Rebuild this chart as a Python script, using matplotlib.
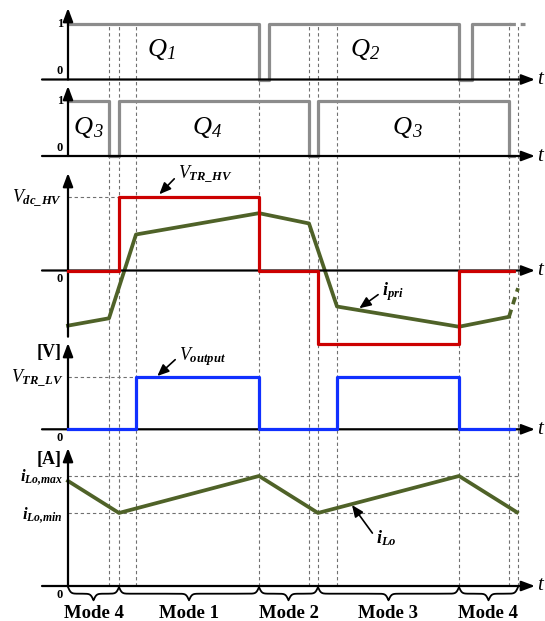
import numpy as np
import matplotlib
matplotlib.use('Agg')
import matplotlib.pyplot as plt

plt.rcParams['font.family'] = ['Liberation Serif', 'DejaVu Serif']
plt.rcParams['mathtext.fontset'] = 'custom'
plt.rcParams['mathtext.rm'] = 'Liberation Serif'
plt.rcParams['mathtext.it'] = 'Liberation Serif:italic'
plt.rcParams['mathtext.bf'] = 'Liberation Serif:bold'
plt.rcParams['mathtext.bfit'] = 'Liberation Serif:italic:bold'

# ---------------- data (time in arbitrary units, signals normalised) -------------
events = [4.1, 5.1, 6.8, 19.1, 24.1, 25.0, 26.9, 39.1, 44.1, 45.0]
q1_t = [0, 19.1, 20.1, 39.1, 40.4, 44.1]
q1_v = [1, 0, 1, 0, 1, 1]
q34_t = [0, 4.1, 5.1, 24.1, 25.0, 44.1]
q34_v = [1, 0, 1, 0, 1, 0]
vtr_t = [0, 5.1, 19.1, 25.0, 39.1, 44.1]
vtr_v = [0, 1, 0, -1, 0, 0]
vout_t = [0, 6.8, 19.1, 26.9, 39.1, 44.1]
vout_v = [0, 1, 0, 1, 0, 0]
ipri_t = [0, 4.1, 6.8, 19.1, 24.1, 26.9, 39.1, 44.1]
ipri_v = [-0.75, -0.65, 0.49, 0.78, 0.64, -0.49, -0.765, -0.63]
ipri_tail_t = [44.1, 45.0]
ipri_tail_v = [-0.63, -0.24]
ilo_t = [0, 5.1, 19.1, 25.0, 39.1, 44.9]
ilo_v = [0.955, 0.664, 1.0, 0.664, 1.0, 0.67]
ilo_max, ilo_min = 1.0, 0.664
mode_edges = [0, 5.1, 19.1, 25.0, 39.1, 45.0]
mode_names = ['Mode 4', 'Mode 1', 'Mode 2', 'Mode 3', 'Mode 4']
tail_end = 45.0
q1_tail_end = 45.7

# ---------------- layout --------------------------------------------------------
W, H = 545, 621
X0, SX = 68.0, 10.0          # pixel of t=0, pixels per time unit
XLIM = (-X0 / SX, (W - X0) / SX)
GRAY = '#8c8c8c'
RED = '#cc0000'
GREEN = '#4f6228'
BLUE = '#1030ff'
LW = 2.3
AXLW = 1.6

fig = plt.figure(figsize=(W / 100, H / 100), dpi=100)


def panel(ptop, pbot, zero, unit):
    ax = fig.add_axes([0, 1 - pbot / H, 1, (pbot - ptop) / H])
    ax.set_xlim(*XLIM)
    ax.set_ylim((zero - pbot) / unit, (zero - ptop) / unit)
    ax.axis('off')
    ax.patch.set_visible(False)
    return ax


def px2t(px):
    return (px - X0) / SX


def arrow(ax, start, end):
    ax.annotate('', xy=end, xytext=start,
                arrowprops=dict(arrowstyle='-|>,head_length=0.8,head_width=0.3',
                                mutation_scale=10, lw=AXLW, color='k',
                                shrinkA=0, shrinkB=0),
                annotation_clip=False)


def axes_lines(ax, ytip, ybot=0.0):
    arrow(ax, (px2t(42), 0), (px2t(535), 0))
    arrow(ax, (0, ybot), (0, ytip))
    ax.text(px2t(537), 0, 't', fontsize=15, style='italic', ha='left', va='center')


def label_arrow(ax, text, txy, axy, fs=13):
    ax.annotate(text, xy=axy, xytext=txy, fontsize=fs, ha='left', va='center',
                arrowprops=dict(arrowstyle='-|>,head_length=0.7,head_width=0.3',
                                mutation_scale=10, lw=1.2, color='k',
                                shrinkA=1, shrinkB=0, relpos=(0, 0.5)),
                annotation_clip=False)


def qlabel(ax, xc, y, sub):
    ax.text(xc + 0.5, y, 'Q', fontsize=19, style='italic', ha='right', va='center')
    ax.text(xc + 0.5, y - 0.08, sub, fontsize=13.5, style='italic', ha='left', va='center')


# overlay for vertical guide lines
ov = fig.add_axes([0, 0, 1, 1])
ov.set_xlim(*XLIM)
ov.set_ylim(0, 1)
ov.axis('off')
ov.vlines(events, 1 - 586 / H, 1 - 24 / H, colors='#707070', lw=0.8,
          linestyles=(0, (3, 2.5)), zorder=0)

# ---- panel 1: Q1/Q2 ----
p1 = panel(0, 84, 79.5, 55.5)
p1.plot(q1_t, q1_v, drawstyle='steps-post', color=GRAY, lw=LW, clip_on=False, zorder=3)
p1.plot([q1_t[-1], q1_tail_end], [q1_v[-1], q1_v[-1]], color=GRAY, lw=LW,
        ls=(0, (2, 1.5)), clip_on=False, zorder=3)
axes_lines(p1, (79.5 - 8) / 55.5)
p1.text(-0.8, 1.0, '1', fontsize=9, fontweight='bold', ha='center', va='center')
p1.text(-0.8, 0.16, '0', fontsize=9, fontweight='bold', ha='center', va='center')
qlabel(p1, px2t(161.7), 0.53, '1')
qlabel(p1, px2t(365), 0.53, '2')

# ---- panel 2: Q3/Q4 ----
p2 = panel(84, 165, 156, 55)
p2.plot(q34_t, q34_v, drawstyle='steps-post', color=GRAY, lw=LW, clip_on=False, zorder=3)
p2.plot([q34_t[-1], tail_end], [q34_v[-1], q34_v[-1]], color=GRAY, lw=LW,
        ls=(0, (2, 1.5)), clip_on=False, zorder=3)
axes_lines(p2, (156 - 86) / 55)
p2.text(-0.8, 1.0, '1', fontsize=9, fontweight='bold', ha='center', va='center')
p2.text(-0.8, 0.145, '0', fontsize=9, fontweight='bold', ha='center', va='center')
qlabel(p2, px2t(88), 0.51, '3')
qlabel(p2, px2t(207), 0.51, '4')
qlabel(p2, px2t(406.7), 0.51, '3')

# ---- panel 3: V_TR_HV and i_pri ----
p3 = panel(165, 340, 270.5, 73.5)
p3.plot([0, vtr_t[1]], [1, 1], color='#707070', lw=0.8, ls=(0, (3, 2.5)), zorder=1)
p3.plot(ipri_t, ipri_v, color=GREEN, lw=LW + 0.4, clip_on=False, zorder=3)
p3.plot(ipri_tail_t, ipri_tail_v, color=GREEN, lw=LW + 0.4, ls=(0, (2, 1.5)),
        clip_on=False, zorder=3)
p3.plot(vtr_t, vtr_v, drawstyle='steps-post', color=RED, lw=LW, clip_on=False, zorder=4)
p3.plot([vtr_t[-1], tail_end], [vtr_v[-1], vtr_v[-1]], color=RED, lw=LW,
        ls=(0, (2, 1.5)), clip_on=False, zorder=4)
axes_lines(p3, (270.5 - 173) / 73.5, (270.5 - 336.7) / 73.5)
p3.text(-0.6, 0.918, r'$V_{\mathbfit{dc\_HV}}$', fontsize=13, ha='right', va='baseline')
p3.text(-0.8, -0.12, '0', fontsize=9, fontweight='bold', ha='center', va='center')
label_arrow(p3, r'$V_{\mathbfit{TR\_HV}}$', (px2t(178), 1.30), (px2t(159.3), 1.037))
label_arrow(p3, r'$\mathbfit{i}_{\mathbfit{pri}}$', (px2t(382), -0.29), (px2t(359.3), -0.514))

# ---- panel 4: V_output ----
p4 = panel(340, 440, 429.3, 52.6)
p4.plot([0, vout_t[1]], [1, 1], color='#707070', lw=0.8, ls=(0, (3, 2.5)), zorder=1)
p4.plot(vout_t, vout_v, drawstyle='steps-post', color=BLUE, lw=LW, clip_on=False, zorder=4)
p4.plot([vout_t[-1], tail_end], [vout_v[-1], vout_v[-1]], color=BLUE, lw=LW,
        ls=(0, (2, 1.5)), clip_on=False, zorder=4)
axes_lines(p4, (429.3 - 343) / 52.6)
p4.text(-1.87, 1.456, '[V]', fontsize=13, fontweight='bold', ha='center', va='center')
p4.text(-0.5, 0.88, r'$V_{\mathbfit{TR\_LV}}$', fontsize=13, ha='right', va='baseline')
p4.text(-0.8, -0.16, '0', fontsize=9, fontweight='bold', ha='center', va='center')
label_arrow(p4, r'$V_{\mathbfit{output}}$', (px2t(179), 1.39), (px2t(157.3), 1.013))

# ---- panel 5: i_Lo ----
p5 = panel(440, 621, 586, 110)
p5.plot([0, tail_end], [ilo_max, ilo_max], color='#707070', lw=0.8, ls=(0, (3, 2.5)), zorder=1)
p5.plot([0, tail_end], [ilo_min, ilo_min], color='#707070', lw=0.8, ls=(0, (3, 2.5)), zorder=1)
p5.plot(ilo_t, ilo_v, color=GREEN, lw=LW + 0.4, clip_on=False, zorder=3)
axes_lines(p5, (586 - 448) / 110)
p5.text(-1.87, 1.152, '[A]', fontsize=13, fontweight='bold', ha='center', va='center')
p5.text(-0.5, 0.955, r'$\mathbfit{i}_{\mathbfit{Lo{,}max}}$', fontsize=12, ha='right', va='baseline')
p5.text(-0.5, 0.61, r'$\mathbfit{i}_{\mathbfit{Lo{,}min}}$', fontsize=12, ha='right', va='baseline')
p5.text(-0.8, -0.082, '0', fontsize=9, fontweight='bold', ha='center', va='center')
label_arrow(p5, r'$\mathbfit{i}_{\mathbfit{Lo}}$', (px2t(376), 0.436), (px2t(352), 0.736))


def brace(ax, x0, x1, y0, h, beta=7.0):
    xs = np.linspace(x0, x1, 401)
    half = xs[:201]
    yh = 1 / (1 + np.exp(-beta * (half - half[0]))) + 1 / (1 + np.exp(-beta * (half - half[-1])))
    yfull = np.concatenate([yh, yh[-2::-1]])
    ax.plot(xs, y0 - h * (yfull - 0.5), color='k', lw=1.3, clip_on=False, zorder=3)


for a, b, name in zip(mode_edges[:-1], mode_edges[1:], mode_names):
    brace(p5, a, b, -0.01, 0.12)
    p5.text((a + b) / 2, -0.25, name, fontsize=13.5, fontweight='bold',
            ha='center', va='center')

fig.savefig('out.png', dpi=100)
